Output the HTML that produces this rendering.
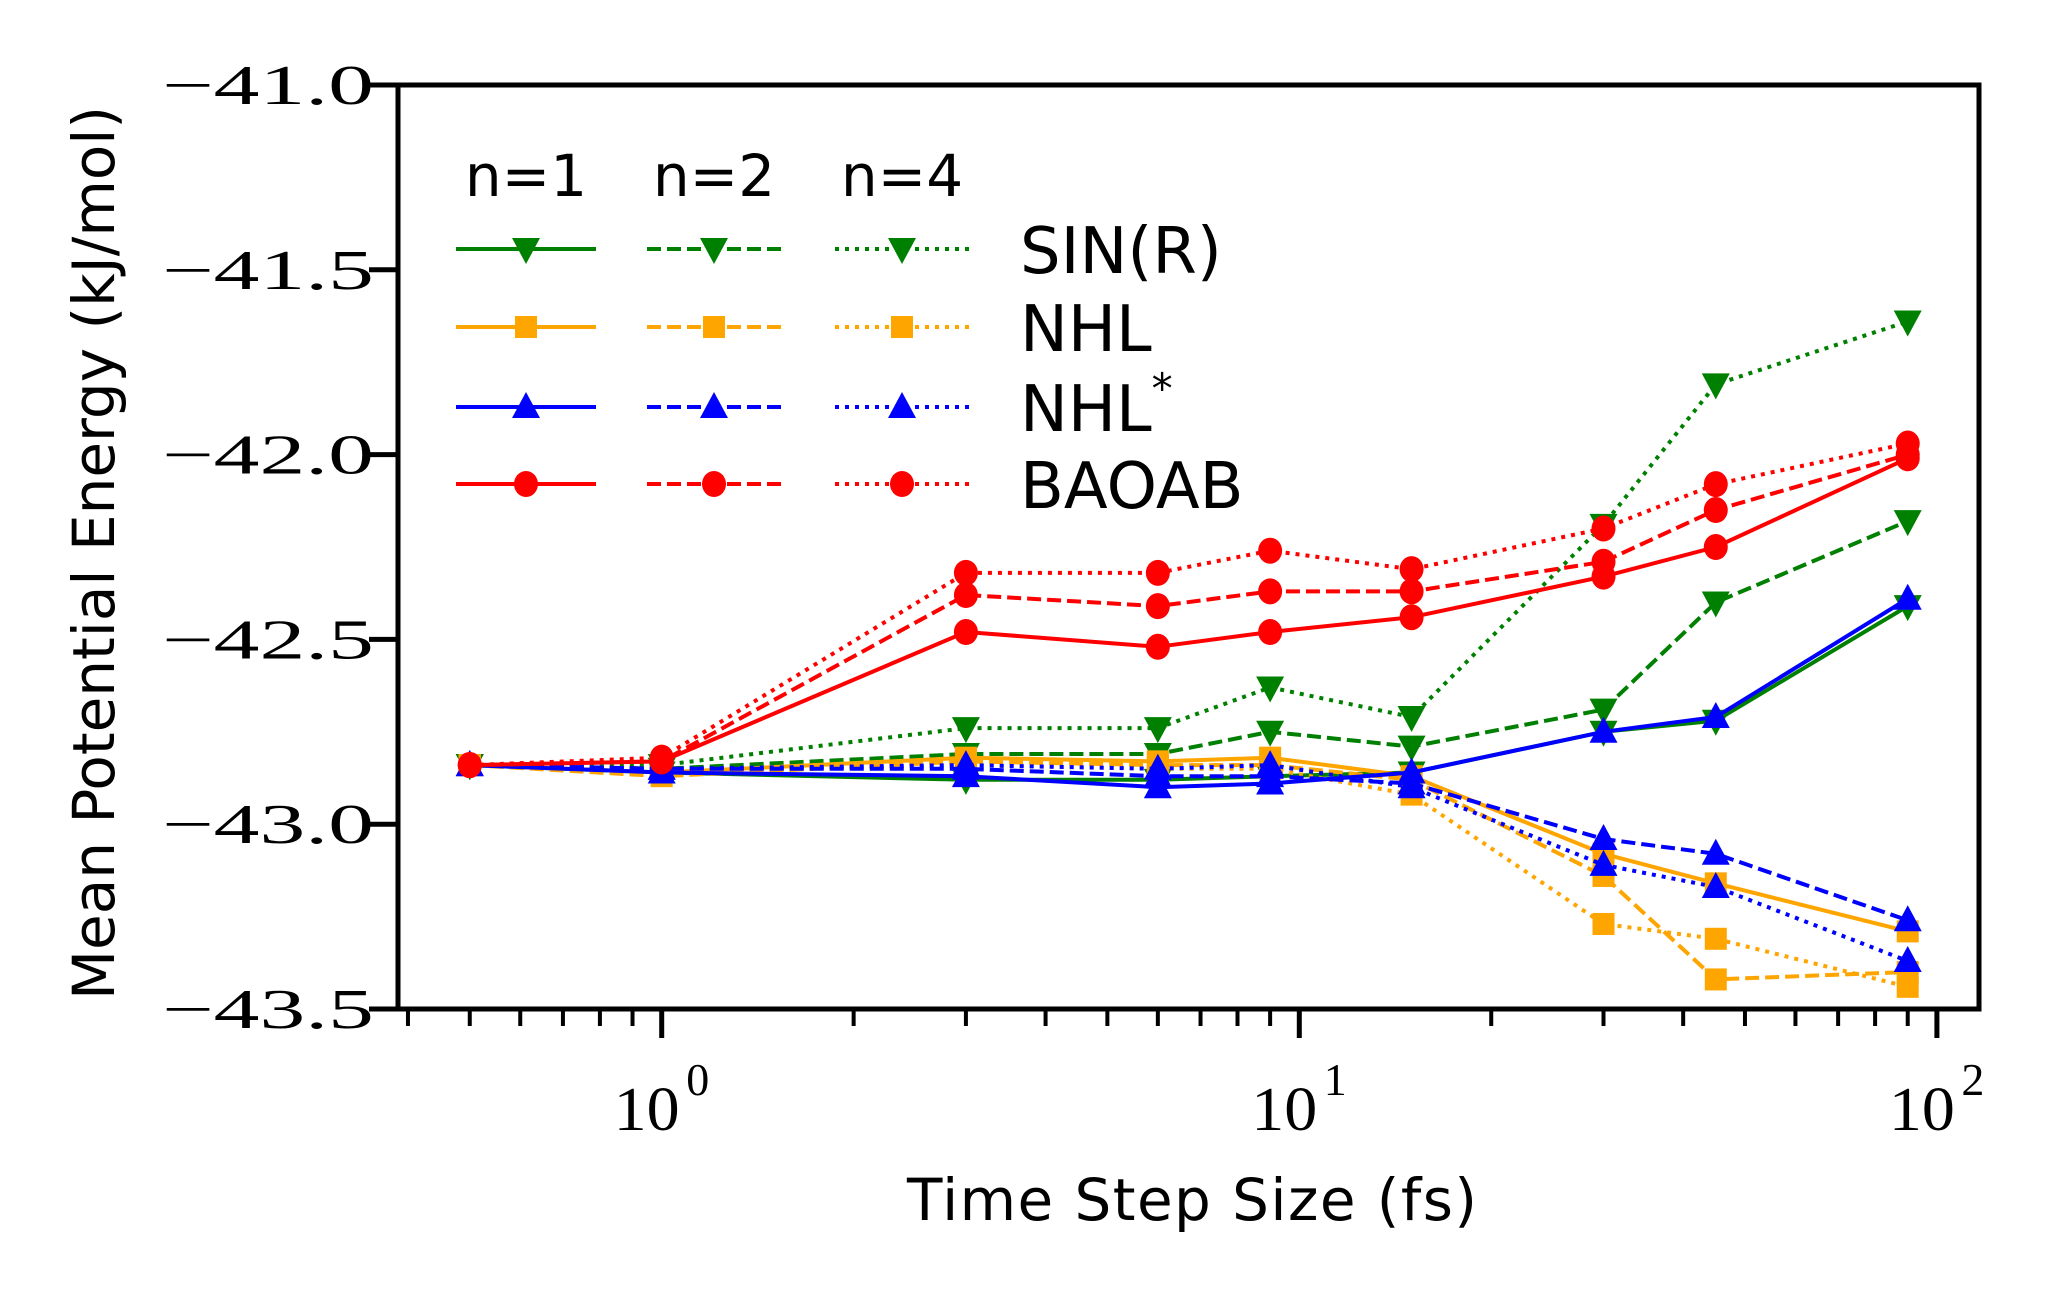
<!DOCTYPE html>
<html><head><meta charset="utf-8"><style>
html,body{margin:0;padding:0;background:#fff;}
svg{display:block;}
.sans{font-family:"DejaVu Sans","Liberation Sans",sans-serif;}
.serif{font-family:"Liberation Serif","DejaVu Serif",serif;}
</style></head><body>
<svg id="chart" width="2047" height="1291" viewBox="0 0 2047 1291" xmlns="http://www.w3.org/2000/svg">
<rect x="0" y="0" width="2047" height="1291" fill="#fff"/>
<g id="plot"></g>
<g id="axes"></g>
<g id="legend"></g>
<text class="sans" x="1192" y="1220" font-size="58" text-anchor="middle" textLength="570">Time Step Size (fs)</text>
<text class="sans" x="0" y="0" font-size="58" text-anchor="middle" transform="translate(114,553) rotate(-90)">Mean Potential Energy (kJ/mol)</text>
</svg>
<script>
const steps = [0.5, 1, 3, 6, 9, 15, 30, 45, 90];
const sinR1 = [-42.84, -42.86, -42.88, -42.88, -42.87, -42.86, -42.75, -42.72, -42.41];
const sinR2 = [-42.84, -42.85, -42.81, -42.81, -42.75, -42.79, -42.69, -42.40, -42.18];
const sinR4 = [-42.84, -42.84, -42.74, -42.74, -42.63, -42.71, -42.19, -41.81, -41.64];
const nhl1 = [-42.84, -42.86, -42.82, -42.83, -42.82, -42.87, -43.08, -43.16, -43.29];
const nhl2 = [-42.84, -42.87, -42.83, -42.84, -42.84, -42.88, -43.14, -43.42, -43.40];
const nhl4 = [-42.84, -42.86, -42.84, -42.85, -42.85, -42.92, -43.27, -43.31, -43.44];
const nhls1 = [-42.84, -42.86, -42.87, -42.90, -42.89, -42.86, -42.75, -42.71, -42.39];
const nhls2 = [-42.84, -42.85, -42.85, -42.87, -42.87, -42.89, -43.04, -43.08, -43.26];
const nhls4 = [-42.84, -42.85, -42.84, -42.85, -42.84, -42.90, -43.11, -43.17, -43.37];
const baoab1 = [-42.84, -42.83, -42.48, -42.52, -42.48, -42.44, -42.33, -42.25, -42.01];
const baoab2 = [-42.84, -42.83, -42.38, -42.41, -42.37, -42.37, -42.29, -42.15, -42.00];
const baoab4 = [-42.84, -42.82, -42.32, -42.32, -42.26, -42.31, -42.20, -42.08, -41.97];
const yTicks = [-41.0, -41.5, -42.0, -42.5, -43.0, -43.5];
const yTickLabels = ["\u221241.0", "\u221241.5", "\u221242.0", "\u221242.5", "\u221243.0", "\u221243.5"];
const xMajor = [0, 1, 2];
const colNames = ["n=1", "n=2", "n=4"];
const rowNames = ["SIN(R)", "NHL", "NHL", "BAOAB"];

const NS = "http://www.w3.org/2000/svg";
const L = 398, R = 1979, T = 85, B = 1009;
const X0 = 661.7, DEC = 637.6;
const xs = v => X0 + DEC * Math.log10(v);
const ys = v => T + (-41 - v) / 2.5 * (B - T);
function mk(tag, attrs, parent) {
  const e = document.createElementNS(NS, tag);
  for (const k in attrs) e.setAttribute(k, attrs[k]);
  parent.appendChild(e);
  return e;
}
const plot = document.getElementById('plot');
const axes = document.getElementById('axes');
const legend = document.getElementById('legend');
const dashes = ["", "14,6", "4,6"];
const colors = ["green", "orange", "blue", "red"];
const shapes = ["tdown", "square", "tup", "circle"];
function marker(shape, cx, cy, color, parent) {
  let e;
  if (shape === "tdown") e = mk('polygon', {points: `${cx-14},${cy-11} ${cx+14},${cy-11} ${cx},${cy+15}`, fill: color}, parent);
  else if (shape === "tup") e = mk('polygon', {points: `${cx-14},${cy+11} ${cx+14},${cy+11} ${cx},${cy-15}`, fill: color}, parent);
  else if (shape === "square") e = mk('rect', {x: cx-11, y: cy-11, width: 22, height: 22, fill: color}, parent);
  else e = mk('ellipse', {cx: cx, cy: cy, rx: 12, ry: 13, fill: color}, parent);
  return e;
}
const series = [
  [sinR1, sinR2, sinR4],
  [nhl1, nhl2, nhl4],
  [nhls1, nhls2, nhls4],
  [baoab1, baoab2, baoab4]
];
const sNames = ["sinr", "nhl", "nhl-star", "baoab"];
series.forEach((grp, gi) => {
  grp.forEach((vals, ni) => {
    const g = mk('g', {}, plot);
    
    
    const pts = vals.map((v, i) => `${xs(steps[i]).toFixed(1)},${ys(v).toFixed(1)}`).join(' ');
    const pl = mk('polyline', {points: pts, fill: 'none', stroke: colors[gi], 'stroke-width': 4}, g);
    if (dashes[ni]) pl.setAttribute('stroke-dasharray', dashes[ni]);
    
    
    vals.forEach((v, i) => {
      const m = marker(shapes[gi], xs(steps[i]), ys(v), colors[gi], g);
      
      
    });
  });
});
const frame = mk('rect', {x: L, y: T, width: R - L, height: B - T, fill: 'none', stroke: '#000', 'stroke-width': 5}, axes);


yTicks.forEach((v, i) => {
  const y = ys(v);
  const t = mk('line', {x1: L - 29, x2: L, y1: y, y2: y, stroke: '#000', 'stroke-width': 5}, axes);
  
  
  const tx = mk('text', {x: L - 212 - 24, y: y + 19, 'font-size': 56, textLength: 212, lengthAdjust: 'spacingAndGlyphs', class: 'serif'}, axes);
  tx.textContent = yTickLabels[i];
  
  
});
xMajor.forEach(p => {
  const x = xs(Math.pow(10, p));
  const t = mk('line', {x1: x, x2: x, y1: B, y2: B + 29, stroke: '#000', 'stroke-width': 5}, axes);
  
  
  const tx = mk('text', {x: x - 48, y: B + 121, 'font-size': 62, textLength: 66, lengthAdjust: 'spacingAndGlyphs', class: 'serif'}, axes);
  tx.textContent = '10';
  
  
  const sp = mk('text', {x: x + 36, y: B + 86, 'font-size': 46, 'text-anchor': 'middle', class: 'serif'}, axes);
  sp.textContent = String(p);
  
  
});
for (let d = -1; d <= 2; d++) {
  for (let m = 2; m <= 9; m++) {
    const v = m * Math.pow(10, d);
    const x = xs(v);
    if (x < L + 3 || x > R - 3) continue;
    const t = mk('line', {x1: x, x2: x, y1: B, y2: B + 17, stroke: '#000', 'stroke-width': 4}, axes);
    
    
  }
}
const colX = [[456, 596, 526], [647, 781, 714], [835, 969, 902]];
const rowY = [249, 327, 407, 484];
colNames.forEach((n, i) => {
  const t = mk('text', {x: colX[i][2], y: 196, 'font-size': 58, 'text-anchor': 'middle', class: 'sans'}, legend);
  t.textContent = n;
  
  
});
rowNames.forEach((name, r) => {
  colX.forEach((c, ci) => {
    const ln = mk('line', {x1: c[0], x2: c[1], y1: rowY[r], y2: rowY[r], stroke: colors[r], 'stroke-width': 4}, legend);
    if (dashes[ci]) ln.setAttribute('stroke-dasharray', dashes[ci]);
    
    
    const m = marker(shapes[r], c[2], rowY[r], colors[r], legend);
    
    
  });
  const t = mk('text', {x: 1020, y: rowY[r] + 24, 'font-size': 64, class: 'sans'}, legend);
  t.textContent = name;
  if (r === 2) {
    const s = mk('tspan', {dy: -28, 'font-size': 42}, t);
    s.textContent = '*';
  }
  
  
});
</script>
</body></html>
